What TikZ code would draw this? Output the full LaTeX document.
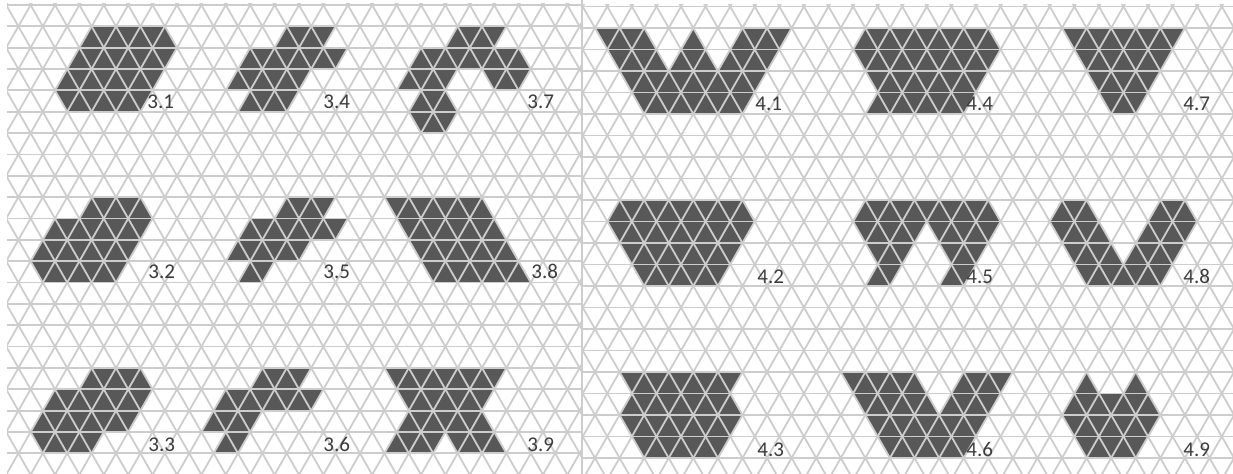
\documentclass[tikz,border=0pt]{standalone}
\usepackage{fontspec}
\setmainfont{Carlito}
\definecolor{gridc}{RGB}{205,205,205}
\definecolor{darkc}{RGB}{88,88,88}
\definecolor{labc}{RGB}{60,60,60}
\tikzset{
  gridline/.style={draw=gridc, line width=0.9pt},
  shapefill/.style={fill=darkc},
  lab/.style={text=labc, font=\fontsize{10.5}{12}\selectfont, inner sep=0pt, anchor=base west}
}
\newcommand\trap[5]{\fill[shapefill] (#2,#1) -- (#3,#1) -- (#5,#1+1) -- (#4,#1+1) -- cycle;}
\newcommand\trigrid{%
  \foreach \r in {0,...,23} {\draw[gridline] (-4,\r) -- (104,\r);}
  \foreach \m in {-30,-28,...,104} {\draw[gridline] (\m-1,-1) -- (\m+25,25); \draw[gridline] (\m+1,-1) -- (\m-25,25);}
}
\begin{document}
\begin{tikzpicture}[x=0.5pt,y=-0.5pt]
\useasboundingbox (0,0) rectangle (1233,474);
\fill[white] (0,0) rectangle (1233,474);
% ---------------- left panel
\begin{scope}
\clip (7,4) rectangle (581,474);
\begin{scope}[shift={(6.2,5)}, x={(6.1pt,0pt)}, y={(0pt,-10.675pt)}]
  % 3.1
  \fill[shapefill] (7,1) -- (13,1) -- (14,2) -- (11,5) -- (5,5) -- (4,4) -- cycle;
  % 3.2
  \fill[shapefill] (7,9) -- (11,9) -- (12,10) -- (9,13) -- (3,13) -- (2,12) -- (4,10) -- (6,10) -- cycle;
  % 3.3
  \fill[shapefill] (7,17) -- (11,17) -- (12,18) -- (10,20) -- (8,20) -- (7,21) -- (3,21) -- (2,20) -- (4,18) -- (6,18) -- cycle;
  % 3.4
  \trap{1}{23}{27}{22}{26} \trap{2}{20}{28}{19}{27} \trap{3}{19}{25}{18}{24} \trap{4}{20}{24}{19}{23}
  % 3.5
  \trap{9}{23}{27}{22}{26} \trap{10}{20}{28}{19}{27} \trap{11}{19}{25}{18}{24} \trap{12}{20}{22}{19}{21}
  % 3.6
  \trap{17}{21}{25}{20}{24} \trap{18}{18}{26}{17}{25} \trap{19}{17}{21}{16}{20} \trap{20}{18}{20}{17}{19}
  % 3.7
  \trap{1}{37}{41}{36}{40} \trap{2}{34}{42}{33}{43} \trap{3}{33}{37}{32}{36} \trap{3}{39}{43}{40}{42}
  \trap{4}{34}{36}{33}{37} \trap{5}{33}{37}{34}{36}
  % 3.8
  \trap{9}{31}{39}{32}{40} \trap{10}{32}{40}{33}{41} \trap{11}{33}{41}{34}{42} \trap{12}{34}{42}{35}{43}
  % 3.9
  \trap{17}{31}{41}{32}{40} \trap{18}{32}{40}{33}{39} \trap{19}{33}{39}{32}{40} \trap{20}{32}{36}{31}{35} \trap{20}{36}{40}{37}{41}
  \trigrid
\end{scope}
\end{scope}
% ---------------- right panel
\begin{scope}
\clip (583,5) rectangle (1233,474);
\begin{scope}[shift={(582.7,6.5)}, x={(6.145pt,0pt)}, y={(0pt,-10.75pt)}]
  % 4.1
  \trap{1}{1}{5}{2}{6} \trap{1}{9}{9}{8}{10} \trap{1}{13}{17}{12}{16}
  \trap{2}{2}{6}{3}{7} \trap{2}{8}{10}{7}{11} \trap{2}{12}{16}{11}{15}
  \trap{3}{3}{15}{4}{14} \trap{4}{4}{14}{5}{13}
  % 4.4
  \trap{1}{23}{33}{22}{34} \trap{2}{22}{34}{23}{33} \trap{3}{23}{33}{24}{32} \trap{4}{24}{32}{23}{31}
  % 4.7
  \trap{1}{39}{49}{40}{48} \trap{2}{40}{48}{41}{47} \trap{3}{41}{47}{42}{46} \trap{4}{42}{46}{43}{45}
  % 4.2
  \trap{9}{3}{13}{2}{14} \trap{10}{2}{14}{3}{13} \trap{11}{3}{13}{4}{12} \trap{12}{4}{12}{5}{11}
  % 4.5
  \trap{9}{23}{33}{22}{34}
  \trap{10}{22}{28}{23}{27} \trap{10}{28}{34}{29}{33}
  \trap{11}{23}{27}{24}{26} \trap{11}{29}{33}{30}{32}
  \trap{12}{24}{26}{23}{25} \trap{12}{30}{32}{29}{31}
  % 4.8
  \trap{9}{39}{41}{38}{42} \trap{9}{47}{49}{46}{50}
  \trap{10}{38}{42}{39}{43} \trap{10}{46}{50}{45}{49}
  \trap{11}{39}{43}{40}{44} \trap{11}{45}{49}{44}{48}
  \trap{12}{40}{48}{41}{47}
  % 4.3
  \trap{17}{3}{13}{4}{12} \trap{18}{4}{12}{3}{13} \trap{19}{3}{13}{4}{12} \trap{20}{4}{12}{5}{11}
  % 4.6
  \trap{17}{21}{27}{22}{28} \trap{17}{31}{35}{30}{34} \trap{18}{22}{28}{23}{29} \trap{18}{30}{34}{29}{33}
  \trap{19}{23}{33}{24}{32} \trap{20}{24}{32}{25}{31}
  % 4.9
  \trap{17}{41}{41}{40}{42} \trap{17}{45}{45}{44}{46} \trap{18}{40}{46}{39}{47} \trap{19}{39}{47}{40}{46} \trap{20}{40}{46}{41}{45}
  \trigrid
\end{scope}
\end{scope}
\draw[draw=gridc, line width=1pt] (582,0) -- (582,474);
% ---------------- labels
\node[lab] (l31) at (147,108.5) {3.1};
\node[lab] (l34) at (323,108.5) {3.4};
\node[lab] (l37) at (527,108.5) {3.7};
\node[lab] (l32) at (148,279) {3.2};
\node[lab] (l35) at (323,279) {3.5};
\node[lab] (l38) at (531,279) {3.8};
\node[lab] (l33) at (148,452) {3.3};
\node[lab] (l36) at (323,452) {3.6};
\node[lab] (l39) at (527,452) {3.9};
\node[lab] (l41) at (755,111) {4.1};
\node[lab] (l44) at (966,111) {4.4};
\node[lab] (l47) at (1183,111) {4.7};
\node[lab] (l42) at (757,284) {4.2};
\node[lab] (l45) at (966,284) {4.5};
\node[lab] (l48) at (1183,284) {4.8};
\node[lab] (l43) at (757,457) {4.3};
\node[lab] (l46) at (966,457) {4.6};
\node[lab] (l49) at (1183,457) {4.9};
\end{tikzpicture}
\end{document}
